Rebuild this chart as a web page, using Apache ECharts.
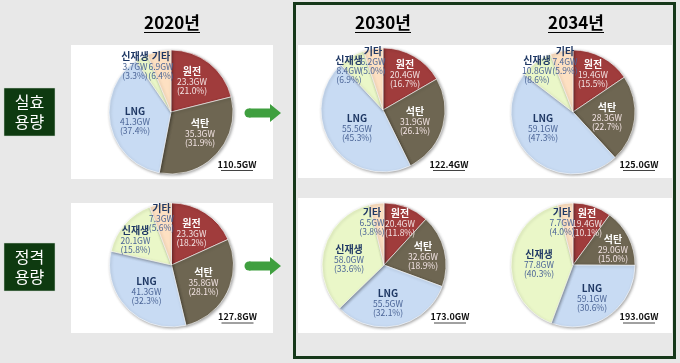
<!DOCTYPE html>
<html><head><meta charset="utf-8">
<script src="https://cdn.jsdelivr.net/npm/echarts@6/dist/echarts.min.js"></script>
<style>html,body{margin:0;padding:0;background:#e8e8e8}#c{width:680px;height:363px}</style>
</head><body><div id="c"></div>
<script>
// ---- data ----
const categories = ['원전', '석탄', 'LNG', '신재생', '기타'];
const years = ['2020년', '2030년', '2034년'];
const rowLabels = ['실효\n용량', '정격\n용량'];
const eff2020 = [23.3, 35.3, 41.3, 3.7, 6.9];
const eff2020Pct = [21.0, 31.9, 37.4, 3.3, 6.4];
const eff2030 = [20.4, 31.9, 55.5, 8.4, 6.2];
const eff2030Pct = [16.7, 26.1, 45.3, 6.9, 5.0];
const eff2034 = [19.4, 28.3, 59.1, 10.8, 7.4];
const eff2034Pct = [15.5, 22.7, 47.3, 8.6, 5.9];
const rated2020 = [23.3, 35.8, 41.3, 20.1, 7.3];
const rated2020Pct = [18.2, 28.1, 32.3, 15.8, 5.6];
const rated2030 = [20.4, 32.6, 55.5, 58.0, 6.5];
const rated2030Pct = [11.8, 18.9, 32.1, 33.6, 3.8];
const rated2034 = [19.4, 29.0, 59.1, 77.8, 7.7];
const rated2034Pct = [10.1, 15.0, 30.6, 40.3, 4.0];

// ---- layout / style ----
const colors = ['#a03c3c', '#6e6652', '#c8dbf3', '#eaf7c8', '#fde0c2'];
const darkSlice = [true, true, false, false, false];
const pies = [
  {vals: eff2020, pct: eff2020Pct, c: [171, 112], off: [[21,-31],[29,21],[-36,9],[-36,-46],[-10,-46]]},
  {vals: eff2030, pct: eff2030Pct, c: [383, 110], off: [[22,-36],[32,11],[-26,18],[-34,-40],[-10,-49]]},
  {vals: eff2034, pct: eff2034Pct, c: [573, 112], off: [[20,-38],[34,5],[-30,16],[-36,-42],[-8,-51]]},
  {vals: rated2020, pct: rated2020Pct, c: [171.5, 265], off: [[20,-32],[32,17],[-25,26],[-36,-25],[-10,-47]]},
  {vals: rated2030, pct: rated2030Pct, c: [384, 265], off: [[16,-42],[39,-9],[4,38],[-35,-6],[-12,-43]]},
  {vals: rated2034, pct: rated2034Pct, c: [573, 265], off: [[14,-42],[40,-16],[19,33],[-34,-1],[-11,-43]]}
];
const R = 62;
const FONT = '"Noto Sans CJK KR", "Noto Sans", sans-serif';

const series = pies.map((p, si) => ({
  type: 'pie',
  center: [p.c[0], p.c[1]],
  radius: [0, R],
  startAngle: 90,
  clockwise: true,
  silent: true,
  animation: false,
  emphasis: {disabled: true},
  itemStyle: {borderColor: '#ffffff', borderWidth: 0.6, shadowBlur: 3, shadowColor: 'rgba(0,0,0,0.35)', shadowOffsetX: 1, shadowOffsetY: 1},
  data: categories.map((name, i) => ({
    name, value: p.vals[i],
    itemStyle: {color: colors[i]},
    label: {
      show: true, position: 'inside',
      formatter: (darkSlice[i] ? '{n|' + name + '}\n{v|' : '{m|' + name + '}\n{w|') + p.vals[i].toFixed(1) + 'GW}\n' +
                 (darkSlice[i] ? '{v|(' : '{w|(') + p.pct[i].toFixed(1) + '%)}',
      align: 'center', verticalAlign: 'middle',
      rich: {
        n: {fontFamily: FONT, fontSize: 10, fontWeight: 'bold', color: '#ffffff', lineHeight: 11, align: 'center'},
        v: {fontFamily: FONT, fontSize: 8.5, color: '#f3e4e4', lineHeight: 9.5, align: 'center'},
        m: {fontFamily: FONT, fontSize: 10, fontWeight: 'bold', color: '#1f3864', lineHeight: 11, align: 'center'},
        w: {fontFamily: FONT, fontSize: 8.5, color: '#4a6496', lineHeight: 9.5, align: 'center'}
      }
    }
  })),
  labelLayout: (params) => {
    const o = p.off[params.dataIndex];
    return {x: p.c[0] + o[0], y: p.c[1] + o[1], align: 'center', verticalAlign: 'middle'};
  },
  labelLine: {show: false}
}));

const graphics = [];
// panels
[[71,45,202,134],[71,203,202,130],[298,45,374,133],[298,198,374,135]].forEach(r => {
  graphics.push({type: 'rect', z: -10, shape: {x: r[0], y: r[1], width: r[2], height: r[3]}, style: {fill: '#ffffff'}, silent: true});
});
// frame
graphics.push({type: 'rect', z: 10, shape: {x: 294.5, y: 3.5, width: 380, height: 354}, style: {fill: null, stroke: '#16381a', lineWidth: 3}, silent: true});
// headings
[[172, 23], [383, 23], [576, 23]].forEach((h, i) => {
  graphics.push({type: 'text', z: 10, x: h[0], y: h[1], style: {text: years[i], font: 'bold 17px ' + FONT, fill: '#000', align: 'center', verticalAlign: 'middle'}, silent: true});
  graphics.push({type: 'line', z: 10, shape: {x1: h[0] - 28, y1: 32.5, x2: h[0] + 28, y2: 32.5}, style: {stroke: '#000', lineWidth: 1.2}, silent: true});
});
// row label boxes
[[4, 88], [4, 243]].forEach((b, i) => {
  graphics.push({type: 'rect', z: 10, shape: {x: b[0], y: b[1], width: 51, height: 48}, style: {fill: '#0e3a10', stroke: '#cfd8cf', lineWidth: 0.5}, silent: true});
  graphics.push({type: 'text', z: 11, x: b[0] + 25.5, y: b[1] + 24, style: {text: rowLabels[i], font: '16px ' + FONT, fill: '#ffffff', align: 'center', verticalAlign: 'middle', lineHeight: 20}, silent: true});
});
// arrows
[113, 266].forEach(y => {
  graphics.push({type: 'polygon', z: 10, shape: {points: [[249, y - 4.5], [270, y - 4.5], [270, y - 9], [281, y], [270, y + 9], [270, y + 4.5], [249, y + 4.5]]}, style: {fill: '#3f9f3f'}, silent: true});
  graphics.push({type: 'circle', z: 10, shape: {cx: 249, cy: y, r: 4.5}, style: {fill: '#3f9f3f'}, silent: true});
});
// totals
pies.forEach(p => {
  const total = p.vals.reduce((a, b) => a + b, 0).toFixed(1) + 'GW';
  const tx = p.c[0] + 66, ty = (p.c[1] > 200 ? 317 : 164.5);
  graphics.push({type: 'text', z: 10, x: tx, y: ty, style: {text: total, font: 'bold 9px ' + FONT, fill: '#111', align: 'center', verticalAlign: 'middle'}, silent: true});
  graphics.push({type: 'line', z: 10, shape: {x1: tx - 16, y1: ty + 6, x2: tx + 16, y2: ty + 6}, style: {stroke: '#111', lineWidth: 0.8}, silent: true});
});

const chart = echarts.init(document.getElementById('c'), null, {renderer: 'canvas'});
chart.setOption({
  backgroundColor: '#e8e8e8',
  animation: false,
  series,
  graphic: graphics
});
</script></body></html>
